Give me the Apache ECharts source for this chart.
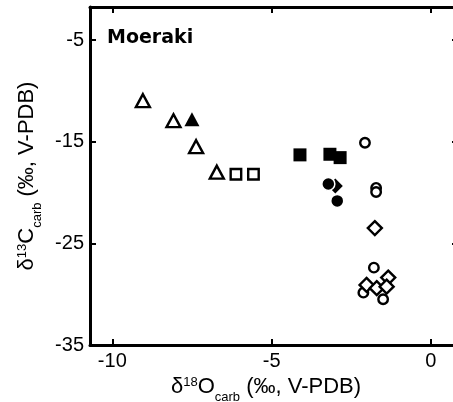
<!DOCTYPE html>
<html>
<head>
<meta charset="utf-8">
<script src="https://cdn.jsdelivr.net/npm/echarts@6/dist/echarts.min.js"></script>
<style>
  html, body { margin: 0; padding: 0; background: #fff; }
  #chart { width: 453px; height: 402px; }
</style>
</head>
<body>
<div id="chart"></div>
<script>
// d18O, d13C pairs
const openTriangle = [[-9.04, -10.97], [-8.08, -12.94], [-7.37, -15.49], [-6.72, -18.0]]
const filledTriangle = [[-7.50, -12.80]]
const openSquare = [[-6.12, -18.2], [-5.57, -18.2]]
const filledSquare = [[-4.11, -16.3], [-3.17, -16.24], [-2.85, -16.57]]
const openCircle = [[-2.07, -15.1], [-1.72, -19.55], [-1.72, -19.95], [-1.79, -27.39], [-2.12, -29.85], [-1.50, -30.5]]
const filledDiamond = [[-3.0, -19.35]]
const filledCircle = [[-3.22, -19.16], [-2.94, -20.83]]
const openDiamond = [[-1.76, -23.5], [-1.34, -28.37], [-2.02, -29.09], [-1.70, -29.41], [-1.39, -29.26]]

const xTicks = [-10, -5, 0]
const yTicks = [-35, -25, -15, -5]

const font = 'Liberation Sans, Arial, sans-serif'
const ink = '#000'

function richName(iso, el) {
  return '{a|δ}{sup|' + iso + '}{a|' + el + '}{sub|carb}{a| (‰, V-PDB)}'
}
const nameRich = {
  a: { fontSize: 22, fontFamily: font, color: ink },
  sup: { fontSize: 13, fontFamily: font, color: ink, padding: [0, 0, 8, 0] },
  sub: { fontSize: 13, fontFamily: font, color: ink, padding: [22, 0, 0, 0] }
}

function frameAxis(extra) {
  return Object.assign({
    type: 'value',
    splitLine: { show: false },
    axisLine: { show: true, onZero: false, lineStyle: { color: ink, width: 3 } }
  }, extra)
}
function ticks(values) {
  return { show: true, inside: true, length: 6, customValues: values, lineStyle: { color: ink, width: 2 } }
}

const chart = echarts.init(document.getElementById('chart'))

function openStyle() {
  return { color: '#fff', borderColor: ink, borderWidth: 2.4, opacity: 1 }
}

chart.setOption({
  animation: false,
  title: {
    text: 'Moeraki',
    left: 102,
    top: 24,
    textStyle: { fontFamily: 'DejaVu Sans', fontWeight: 'bold', fontSize: 19, color: ink }
  },
  grid: { left: 90, top: 7, width: 368, height: 338, outerBoundsMode: 'none' },
  xAxis: [
    frameAxis({
      position: 'bottom', min: -10.7, max: 0.85,
      axisTick: ticks(xTicks),
      axisLabel: { customValues: xTicks, fontFamily: font, fontSize: 20, color: ink, margin: 6 },
      name: richName('18', 'O'),
      nameLocation: 'middle',
      nameGap: 22,
      nameTextStyle: { rich: nameRich, padding: [0, 16, 0, 0] }
    }),
    frameAxis({
      position: 'top', min: -10.7, max: 0.85,
      axisTick: ticks(xTicks),
      axisLabel: { show: false }
    })
  ],
  yAxis: [
    frameAxis({
      position: 'left', min: -35, max: -1.755,
      axisTick: ticks(yTicks),
      axisLabel: { customValues: yTicks, fontFamily: font, fontSize: 20, color: ink, margin: 6 },
      name: richName('13', 'C'),
      nameLocation: 'middle',
      nameGap: 45,
      nameTextStyle: { rich: nameRich }
    }),
    frameAxis({
      position: 'right', min: -35, max: -1.755,
      axisTick: ticks(yTicks),
      axisLabel: { show: false }
    })
  ],
  series: [
    { type: 'scatter', data: openTriangle, symbol: 'triangle', symbolSize: [14, 13], itemStyle: openStyle() },
    { type: 'scatter', data: filledTriangle, symbol: 'triangle', symbolSize: [15, 14], itemStyle: { color: ink, opacity: 1 } },
    { type: 'scatter', data: openSquare, symbol: 'rect', symbolSize: 10.5, itemStyle: openStyle() },
    { type: 'scatter', data: filledSquare, symbol: 'rect', symbolSize: 13, itemStyle: { color: ink, opacity: 1 } },
    { type: 'scatter', data: filledDiamond, symbol: 'diamond', symbolSize: 15, itemStyle: { color: ink, opacity: 1 } },
    { type: 'scatter', data: filledCircle, symbol: 'circle', symbolSize: 13, itemStyle: { color: ink, borderColor: '#fff', borderWidth: 1.5, opacity: 1 } },
    { type: 'scatter', data: openCircle, symbol: 'circle', symbolSize: 9.5, itemStyle: openStyle() },
    { type: 'scatter', data: openDiamond, symbol: 'diamond', symbolSize: 14, itemStyle: openStyle() }
  ]
})
</script>
</body>
</html>
